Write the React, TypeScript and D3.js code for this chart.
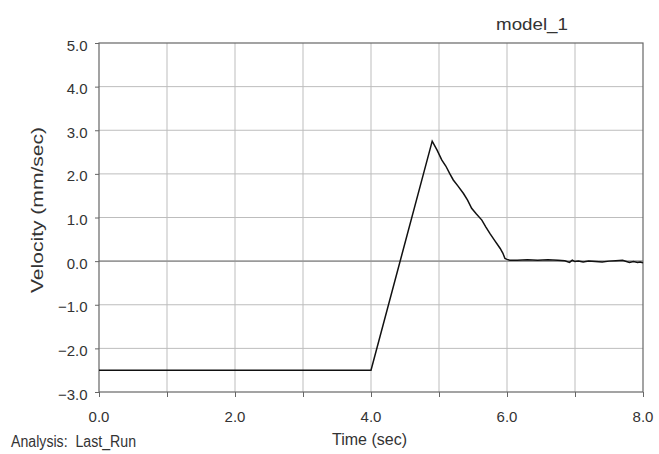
import React, { useRef, useEffect } from 'react';
import * as d3 from 'd3';

// Velocity trace
const timeSec = [
  0.0, 4.0, 4.9, 4.97, 5.04, 5.1, 5.16, 5.21, 5.28, 5.36, 5.42, 5.48, 5.55, 5.63, 5.69, 5.75, 5.82,
  5.9, 5.94, 5.97, 6.0, 6.04, 6.15, 6.3, 6.45, 6.6, 6.75, 6.85, 6.92, 6.96, 7.0, 7.05, 7.12, 7.2,
  7.3, 7.4, 7.5, 7.6, 7.7, 7.8, 7.86, 7.92, 7.96, 8.0,
];
const velocity = [
  -2.5, -2.5, 2.75, 2.55, 2.32, 2.18, 2.0, 1.86, 1.72, 1.55, 1.4, 1.21, 1.08, 0.94, 0.78, 0.63, 0.47,
  0.29, 0.18, 0.06, 0.04, 0.02, 0.02, 0.03, 0.02, 0.03, 0.02, 0.01, -0.03, 0.02, -0.01, 0.0, -0.02,
  0.0, -0.01, -0.02, 0.0, 0.01, 0.02, -0.03, -0.01, -0.03, -0.02, -0.04,
];

const xTicks = [0, 2, 4, 6, 8];
const xGrid = [1, 2, 3, 4, 5, 6, 7];
const yTicks = [-3, -2, -1, 0, 1, 2, 3, 4, 5];

const App = () => {
  const chartRef = useRef<SVGSVGElement>(null);

  useEffect(() => {
    const width = 659;
    const height = 454;
    const margin = { top: 43, right: 16, bottom: 62, left: 99 };
    const innerW = width - margin.left - margin.right;
    const innerH = height - margin.top - margin.bottom;
    const font = '"Liberation Sans", Arial, sans-serif';

    const svg = d3.select(chartRef.current)
      .attr('width', width)
      .attr('height', height);
    svg.selectAll('*').remove();

    svg.append('rect').attr('width', width).attr('height', height).attr('fill', '#fff');

    const g = svg.append('g').attr('transform', `translate(${margin.left},${margin.top})`);

    const x = d3.scaleLinear().domain([0, 8]).range([0, innerW]);
    const y = d3.scaleLinear().domain([-3, 5]).range([innerH, 0]);

    // grid
    g.selectAll('.vgrid')
      .data(xGrid)
      .enter().append('line')
      .attr('x1', d => x(d)).attr('x2', d => x(d))
      .attr('y1', 0).attr('y2', innerH)
      .attr('stroke', '#bdbdbd').attr('stroke-width', 1);

    g.selectAll('.hgrid')
      .data(yTicks.filter(d => d > -3 && d < 5))
      .enter().append('line')
      .attr('x1', 0).attr('x2', innerW)
      .attr('y1', d => y(d)).attr('y2', d => y(d))
      .attr('stroke', d => (d === 0 ? '#9a9a9a' : '#bdbdbd'))
      .attr('stroke-width', d => (d === 0 ? 1.8 : 1));

    // frame
    g.append('rect')
      .attr('width', innerW).attr('height', innerH)
      .attr('fill', 'none').attr('stroke', '#666').attr('stroke-width', 1.2);

    // bottom axis
    const xAxis = g.append('g')
      .attr('transform', `translate(0,${innerH})`)
      .call(d3.axisBottom(x).tickValues(d3.range(0, 9)).tickSize(5).tickFormat(() => ''));
    xAxis.select('.domain').remove();
    xAxis.selectAll('line').attr('stroke', '#666');

    g.selectAll('.xlabel')
      .data(xTicks)
      .enter().append('text')
      .attr('x', d => x(d)).attr('y', innerH + 30)
      .attr('text-anchor', 'middle')
      .attr('font-family', font).attr('font-size', 15).attr('fill', '#333')
      .text(d => d3.format('.1f')(d));

    // left axis
    const yAxis = g.append('g')
      .call(d3.axisLeft(y).tickValues(yTicks).tickSize(4).tickFormat(() => ''));
    yAxis.select('.domain').remove();
    yAxis.selectAll('line').attr('stroke', '#666');

    g.selectAll('.ylabel')
      .data(yTicks)
      .enter().append('text')
      .attr('x', -11.5).attr('y', d => y(d) + 7.5)
      .attr('text-anchor', 'end')
      .attr('font-family', font).attr('font-size', 15).attr('fill', '#333')
      .text(d => (d < 0 ? '\u2212' + d3.format('.1f')(-d) : d3.format('.1f')(d)));

    // data line
    const pts = timeSec.map((t, i) => [t, velocity[i]] as [number, number]);
    g.append('path')
      .datum(pts)
      .attr('fill', 'none')
      .attr('stroke', '#111')
      .attr('stroke-width', 1.5)
      .attr('d', d3.line<[number, number]>().x(d => x(d[0])).y(d => y(d[1])));

    // titles
    svg.append('text')
      .attr('x', 496).attr('y', 30)
      .attr('font-family', font).attr('font-size', 17).attr('fill', '#333')
      .attr('textLength', 72).attr('lengthAdjust', 'spacingAndGlyphs')
      .text('model_1');

    svg.append('text')
      .attr('transform', `translate(43,${293}) rotate(-90)`)
      .attr('font-family', font).attr('font-size', 17).attr('fill', '#333')
      .attr('textLength', 166).attr('lengthAdjust', 'spacingAndGlyphs')
      .text('Velocity (mm/sec)');

    svg.append('text')
      .attr('x', 332).attr('y', 445)
      .attr('font-family', font).attr('font-size', 16).attr('fill', '#333')
      .attr('textLength', 75).attr('lengthAdjust', 'spacingAndGlyphs')
      .text('Time (sec)');

    svg.append('text')
      .attr('x', 11).attr('y', 447)
      .attr('font-family', font).attr('font-size', 16).attr('fill', '#333')
      .attr('textLength', 125).attr('lengthAdjust', 'spacingAndGlyphs')
      .style('white-space', 'pre')
      .text('Analysis:  Last_Run');
  }, []);

  return (
    <svg ref={chartRef} style={{ position: 'absolute', left: 0, top: 0 }}></svg>
  );
};

export default App;
